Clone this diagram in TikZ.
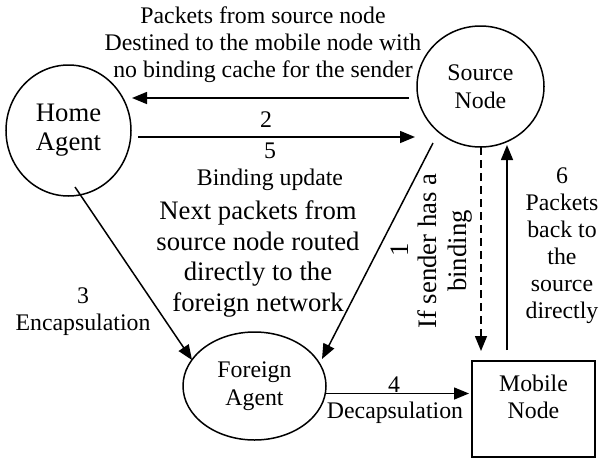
\documentclass[tikz,border=0pt]{standalone}
\usepackage{fontspec}
\setmainfont{Liberation Serif}
\usetikzlibrary{arrows.meta,calc,shapes.geometric}
\newcommand\txtsmall{\fontsize{23.8pt}{27pt}\selectfont}
\newcommand\txtlarge{\fontsize{26.7pt}{30.7pt}\selectfont}
\begin{document}
\begin{tikzpicture}[x=1pt,y=-1pt,
  every node/.style={inner sep=0pt},
  agent/.style={ellipse, draw, line width=1.5pt, align=center},
  box/.style={rectangle, draw, line width=1.5pt, align=center},
  arr/.style={line width=1.5pt, -{Triangle[length=15pt,width=12pt]}},
  lbl/.style={font=\txtsmall, align=center},
  biglbl/.style={font=\txtlarge, align=center}]
\useasboundingbox (0,0) rectangle (605,461);

% network entities
\node[agent, minimum width=125pt, minimum height=131pt,
      font=\fontsize{26.7pt}{29pt}\selectfont] (home) at (68.5,130.5) {Home\\Agent};
\node[agent, minimum width=127pt, minimum height=121pt,
      font=\fontsize{23.8pt}{28pt}\selectfont] (src) at (480.5,86.5) {Source\\Node};
\node[agent, minimum width=143pt, minimum height=108pt,
      font=\fontsize{23.8pt}{28pt}\selectfont] (fa) at (254.5,386) {Foreign\\Agent};
\node[box, minimum width=123pt, minimum height=96pt,
      font=\fontsize{23.8pt}{27pt}\selectfont] (mn) at (533.5,409)
      {\raisebox{9.5pt}[\height][\depth]{\begin{tabular}{@{}c@{}}Mobile\\Node\end{tabular}}};

% message flows
\draw[arr] ($(src.center)+(-71.5,11.5)$) -- ($(home.center)+(63.5,-32.5)$);
\draw[arr] ($(home.center)+(69.5,6.5)$) -- ($(src.center)+(-65.5,50.5)$);
\draw[arr] ($(home.center)+(6.5,56.5)$) -- ($(fa.center)+(-62.5,-26)$);
\draw[arr] ($(src.center)+(-47.5,56.5)$) -- ($(fa.center)+(67.5,-27)$);
\draw[arr, dash pattern=on 8pt off 5pt] ($(src.center)+(0.5,60.5)$) -- ($(mn.center)+(-52.5,-58)$);
\draw[arr] ($(mn.center)+(-26.5,-59)$) -- ($(src.center)+(26.5,58.5)$);
\draw[arr] ($(fa.center)+(71.5,7.5)$) -- ($(mn.center)+(-64.5,-15.5)$);

% flow labels
\node[lbl] (toptxt) at (263,45) {Packets from source node\\Destined to the mobile node with\\no binding cache for the sender};
\node[lbl] (n2) at (266,120) {2};
\node[lbl] (n5) at (270,151) {5};
\node[lbl] (bu) at (270,180) {Binding update};
\node[biglbl] (next) at (258,259) {Next packets from\\source node routed\\directly to the\\foreign network};
\node[lbl] (enc) at (83,311.5) {3\\Encapsulation};
\node[biglbl, rotate=90] (n1) at (400,250) {1};
\node[biglbl, rotate=90] (ifs) at (445,251) {If sender has a\\binding};
\node[lbl] (back) at (562,246) {6\\Packets\\back to\\the\\source\\directly};
\node[lbl] (n4) at (394,385) {4};
\node[lbl] (dec) at (395,413) {Decapsulation};
\end{tikzpicture}
\end{document}
